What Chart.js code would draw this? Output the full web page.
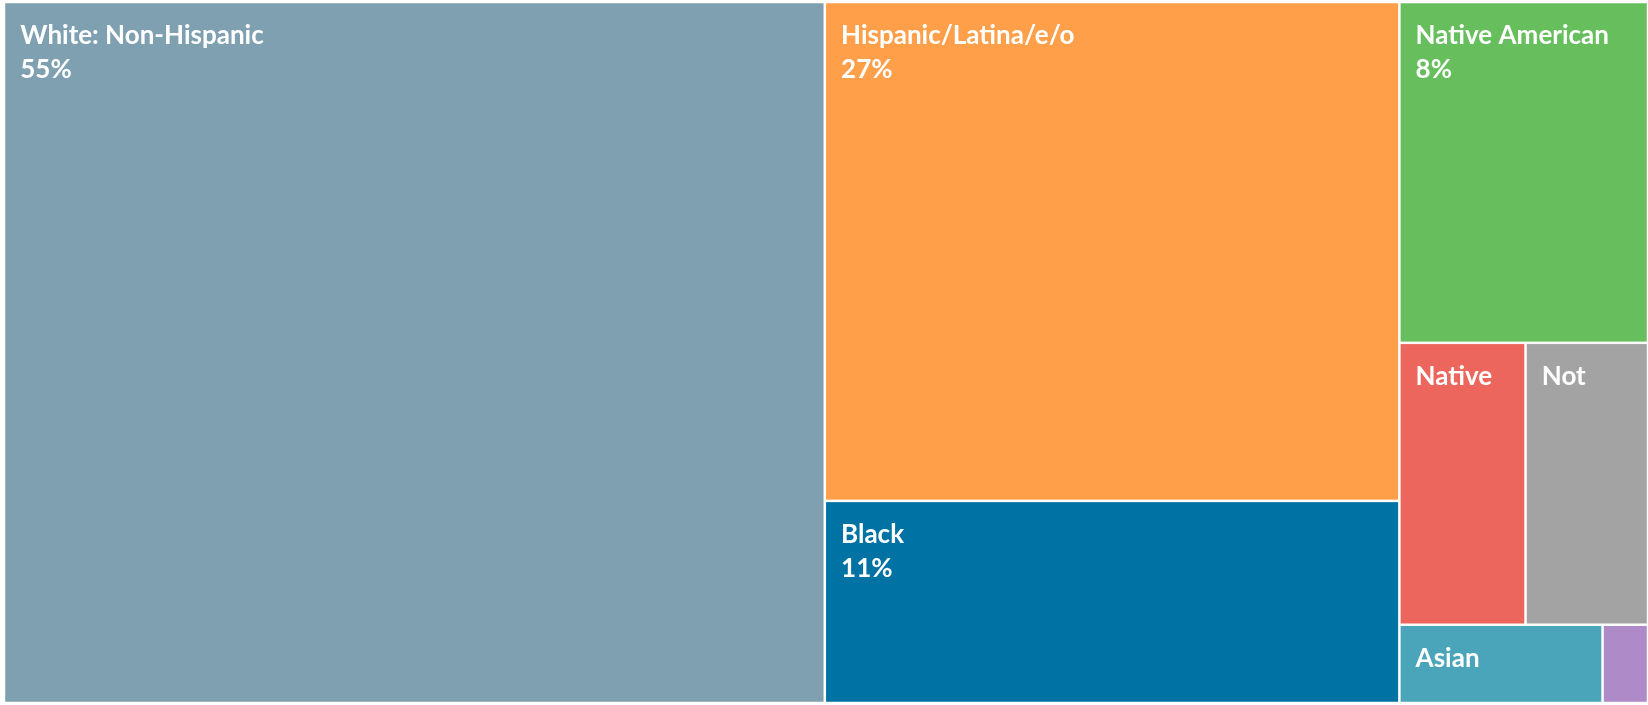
<!DOCTYPE html>
<html>
<head>
<meta charset="utf-8">
<script src="https://cdn.jsdelivr.net/npm/chart.js@4/dist/chart.umd.min.js"></script>
<style>
  html, body { margin: 0; padding: 0; background: #fff; }
  #wrap { width: 1648px; height: 705px; }
</style>
</head>
<body>
<div id="wrap"><canvas id="myChart"></canvas></div>
<script>
const groups = ['White: Non-Hispanic', 'Hispanic/Latina/e/o', 'Black', 'Native American',
  'Native Hawaiian/Pacific Islander', 'Not Reported', 'Asian', 'Other']
const shares = [55, 27.4, 11.1, 8.1, 3.4, 3.3, 1.52, 0.34]
const colors = ['#7FA0B0', '#FF9F4A', '#0072A3', '#66BF5C', '#EC665D', '#A3A3A3', '#4AA5BA', '#AE8AC8']

const labelFont = 'bold 26px Lato'
const phi = (1 + Math.sqrt(5)) / 2

// squarified layout (same rule as d3's treemapSquarify), in units of the chart area
function squarify(values, W, H) {
  const cells = []
  let x0 = 0, y0 = 0, x1 = W, y1 = H
  let total = values.reduce((a, b) => a + b, 0)
  let i0 = 0, i1 = 0
  const n = values.length
  while (i0 < n) {
    const dx = x1 - x0, dy = y1 - y0
    let sum = values[i1++]
    let minV = sum, maxV = sum
    const alpha = Math.max(dy / dx, dx / dy) / (total * phi)
    let beta = sum * sum * alpha
    let minRatio = Math.max(maxV / beta, beta / minV)
    for (; i1 < n; i1++) {
      const v = values[i1]
      sum += v
      if (v < minV) minV = v
      if (v > maxV) maxV = v
      beta = sum * sum * alpha
      const newRatio = Math.max(maxV / beta, beta / minV)
      if (newRatio > minRatio) { sum -= v; break }
      minRatio = newRatio
    }
    if (dx < dy) {
      // row across the top
      const h = dy * sum / total
      let cx = x0
      for (let i = i0; i < i1; i++) {
        const w = dx * values[i] / sum
        cells[i] = { x0: cx, y0: y0, x1: cx + w, y1: y0 + h }
        cx += w
      }
      y0 += h
    } else {
      // column down the left side
      const w = dx * sum / total
      let cy = y0
      for (let i = i0; i < i1; i++) {
        const h = dy * values[i] / sum
        cells[i] = { x0: x0, y0: cy, x1: x0 + w, y1: cy + h }
        cy += h
      }
      x0 += w
    }
    total -= sum
    i0 = i1
  }
  return cells
}

const treemapPlugin = {
  id: 'treemap',
  afterDatasetsDraw(chart) {
    const { ctx, chartArea, scales: { x, y } } = chart
    const W = chartArea.width, H = chartArea.height
    const cells = squarify(shares, W, H)
    const gap = 1.25

    ctx.save()
    cells.forEach((c, i) => {
      const left = x.getPixelForValue(c.x0 / W) + gap
      const right = x.getPixelForValue(c.x1 / W) - gap
      const top = y.getPixelForValue(c.y0 / H) + gap
      const bottom = y.getPixelForValue(c.y1 / H) - gap
      const w = right - left, h = bottom - top

      ctx.fillStyle = colors[i]
      ctx.fillRect(left, top, w, h)

      //label: name on first line, percent on second, only what fits
      ctx.font = labelFont
      ctx.fillStyle = '#FFFFFF'
      ctx.textBaseline = 'alphabetic'
      const avail = w - 30
      if (h < 52) return
      let line = ''
      const words = groups[i].split(' ')
      for (const word of words) {
        const test = line ? line + ' ' + word : word
        if (ctx.measureText(test).width > avail) break
        line = test
      }
      if (!line) return
      ctx.fillText(line, left + 15, top + 41)
      if (line === groups[i] && h >= 90) {
        ctx.fillText(Math.round(shares[i]) + '%', left + 15, top + 75)
      }
    })
    ctx.restore()
  }
}

const treemapChart = document.getElementById('myChart')
new Chart(treemapChart, {
  type: 'scatter',
  data: {
    labels: groups,
    datasets: [{ data: [], pointRadius: 0 }]
  },
  options: {
    responsive: true,
    maintainAspectRatio: false,
    animation: false,
    layout: { padding: { left: 4, top: 2, right: 0, bottom: 2 } },
    scales: {
      x: { type: 'linear', min: 0, max: 1, display: false },
      y: { type: 'linear', min: 0, max: 1, display: false, reverse: true }
    },
    plugins: {
      legend: { display: false },
      tooltip: { enabled: false }
    }
  },
  plugins: [treemapPlugin]
})
</script>
</body>
</html>
